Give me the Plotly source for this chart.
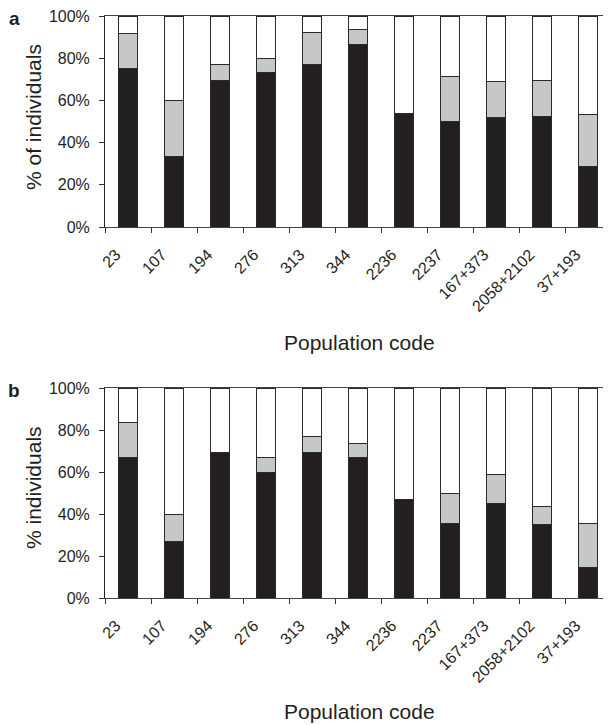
import plotly.graph_objects as go

categories = ["23", "107", "194", "276", "313", "344", "2236", "2237",
              "167+373", "2058+2102", "37+193"]

# Panel a: % of individuals (segment values)
a_black = [75.0, 33.3, 69.2, 73.3, 76.9, 86.7, 53.6, 50.0, 51.7, 52.2, 28.6]
a_gray = [16.7, 26.7, 7.7, 6.7, 15.4, 6.7, 0.0, 21.4, 17.2, 17.4, 24.5]

# Panel b: % individuals (segment values)
b_black = [66.7, 26.7, 69.2, 60.0, 69.2, 66.7, 46.7, 35.7, 44.8, 35.0, 14.3]
b_gray = [16.7, 13.3, 0.0, 6.7, 7.7, 6.7, 0.0, 14.3, 13.8, 8.7, 21.4]

y_ticks = [0, 20, 40, 60, 80, 100]
y_tick_labels = ["0%", "20%", "40%", "60%", "80%", "100%"]

W, H = 611, 725
OFF = 8  # page body margin offset
FONT = "Liberation Sans, Arial, sans-serif"
TXT = "#231f20"
BLACK = "#231f20"
GRAY = "#c6c7c8"
LINE = "#2a2a2a"


def px_x(p):
    return (p - OFF) / W


def px_y(p):
    return 1 - (p - OFF) / H


fig = go.Figure()

panels = [
    (a_black, a_gray, "x", "y"),
    (b_black, b_gray, "x2", "y2"),
]
for blk, gry, xa, ya in panels:
    white = [100 - b - g for b, g in zip(blk, gry)]
    for vals, col in [(blk, BLACK), (gry, GRAY), (white, "#ffffff")]:
        fig.add_trace(go.Bar(
            x=categories, y=vals, xaxis=xa, yaxis=ya,
            marker=dict(color=col, line=dict(color=LINE, width=1)),
            showlegend=False, hoverinfo="skip",
        ))

axis_common_x = dict(
    type="category", tickson="boundaries", ticks="outside", ticklen=5,
    tickcolor="#333", tickwidth=1, tickangle=-45, automargin=False,
    ticklabelshift=-12, ticklabelstandoff=11, ticklabeloverflow="allow",
    showline=True, linecolor="#444", linewidth=1, mirror=True,
    showgrid=False, zeroline=False,
    tickfont=dict(family=FONT, size=16, color=TXT),
    domain=[px_x(105), px_x(611)],
)
axis_common_y = dict(
    range=[0, 100], tickmode="array", tickvals=y_ticks, ticktext=y_tick_labels,
    ticks="outside", automargin=False, ticklabeloverflow="allow",
    ticklabelstandoff=6,
    ticklen=5, tickcolor="#333", tickwidth=1,
    showline=True, linecolor="#222", linewidth=1,
    showgrid=False, zeroline=False,
    tickfont=dict(family=FONT, size=16, color=TXT),
)

fig.update_layout(
    template="none",
    width=W, height=H,
    margin=dict(l=0, r=0, t=0, b=0, autoexpand=False),
    paper_bgcolor="white", plot_bgcolor="white",
    barmode="stack", bargap=0.59,
    xaxis=dict(**axis_common_x, anchor="y"),
    yaxis=dict(**axis_common_y, domain=[px_y(227), px_y(16)], anchor="x"),
    xaxis2=dict(**axis_common_x, anchor="y2"),
    yaxis2=dict(**axis_common_y, domain=[px_y(598), px_y(388)], anchor="x2"),
)

ann = [
    dict(text="<b>a</b>", x=px_x(14), y=px_y(18)),
    dict(text="<b>b</b>", x=px_x(14), y=px_y(390)),
]
for a in ann:
    fig.add_annotation(xref="paper", yref="paper", x=a["x"], y=a["y"],
                       text=a["text"], showarrow=False, xanchor="center",
                       yanchor="middle",
                       font=dict(family=FONT, size=19, color=TXT))

titles = [
    ("% of individuals", 33, 117, -90),
    ("% individuals", 33, 488, -90),
    ("Population code", 359, 342, 0),
    ("Population code", 359, 711, 0),
]
for t, x, y, ang in titles:
    fig.add_annotation(xref="paper", yref="paper", x=px_x(x), y=px_y(y),
                       text=t, showarrow=False, textangle=ang,
                       xanchor="center", yanchor="middle",
                       font=dict(family=FONT, size=21, color=TXT))

fig.write_html("out.html")
